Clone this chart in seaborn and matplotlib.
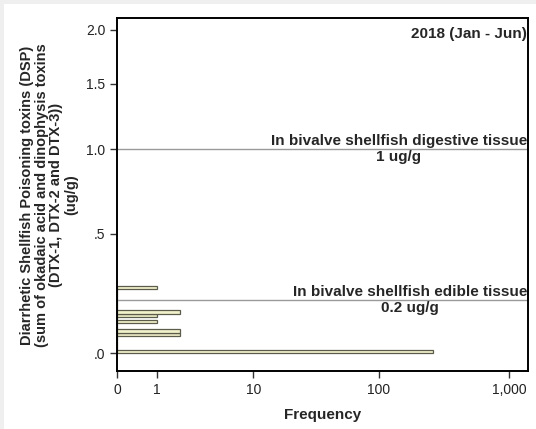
import matplotlib
matplotlib.use("Agg")
import matplotlib.pyplot as plt
from matplotlib.patches import Rectangle
import matplotlib.transforms as mtransforms
import seaborn as sns
import numpy as np
import pandas as pd

# histogram bins (lower edge, ug/g) and counts
bin_starts = [0.0, 0.060, 0.073, 0.108, 0.132, 0.145, 0.246]
frequencies = [263, 2, 2, 1, 1, 2, 1]
bin_width = 0.013

# regulatory limits drawn as reference lines
limit_values = [1.0, 0.2]
limit_labels = ["In bivalve shellfish digestive tissue\n1 ug/g",
                "In bivalve shellfish edible tissue\n0.2 ug/g"]

y_ticks = [0.0, 0.5, 1.0, 1.5, 2.0]
y_ticklabels = [".0", ".5", "1.0", "1.5", "2.0"]
x_ticks = [0, 1, 10, 100, 1000]
x_ticklabels = ["0", "1", "10", "100", "1,000"]


# "safe log" scale like SPSS: log10(1 + v)
def safe_log(v):
    v = np.asarray(v, dtype=float)
    return np.log10(1 + np.clip(v, -0.999, None))


def safe_log_inv(t):
    return 10 ** np.asarray(t, dtype=float) - 1


sns.set_style("white")
plt.rcParams['font.family'] = ['Liberation Sans', 'DejaVu Sans']

fig = plt.figure(figsize=(5.36, 4.29), dpi=100)
fig.patch.set_facecolor('#efefef')
fig.patches.append(Rectangle((4 / 536, 0), 1, 1 - 4 / 429, transform=fig.transFigure,
                             facecolor='white', edgecolor='none', zorder=-10))

ax = fig.add_axes([117.3 / 536, 1 - 371 / 429, 411 / 536, 353 / 429])
ax.set_facecolor('white')
ax.set_xscale('function', functions=(safe_log, safe_log_inv))
ax.set_yscale('function', functions=(safe_log, safe_log_inv))

# bin edges and the table for seaborn
# (seaborn bins in the axis' transformed space, so the edges go through safe_log)
starts = np.array(bin_starts)
edges = sorted(set(np.round(np.concatenate([starts, starts + bin_width]), 4).tolist()))
edges_t = safe_log(edges).tolist()
df = pd.DataFrame({'dsp': starts + bin_width / 2, 'count': frequencies})

sns.histplot(data=df, y='dsp', weights='count', bins=edges_t, ax=ax,
             color='#f1f1cc', edgecolor='#5c5c4c', linewidth=0.9, alpha=1)

ax.set_xlim(0, 1409)
ax.set_ylim(-0.058, 2.123)

for val, lab in zip(limit_values, limit_labels):
    ax.axhline(val, color='#9a9a9a', linewidth=1.0, zorder=1)
    trans = mtransforms.blended_transform_factory(ax.transAxes, ax.transData)
    ax.text(0.997, val, lab, transform=trans, ha='right', va='center',
            multialignment='center', fontsize=11, fontweight='bold')

ax.text(0.997, 0.975, "2018 (Jan - Jun)", transform=ax.transAxes, ha='right', va='top',
        fontsize=11, fontweight='bold')

ax.set_yticks(y_ticks)
ax.set_yticklabels(y_ticklabels)
ax.set_xticks(x_ticks)
ax.set_xticklabels(x_ticklabels)
ax.minorticks_off()
ax.tick_params(axis='both', direction='out', length=5, width=1, color='#333333',
               labelsize=10, labelcolor='#222222', left=True, bottom=True)

for s in ax.spines.values():
    s.set_visible(True)
    s.set_color('black')
    s.set_linewidth(1.4)

ax.set_xlabel("Frequency", fontsize=11, fontweight='bold', labelpad=8)
ax.set_ylabel("")

fig.text(49 / 536, 1 - 195 / 429,
         "Diarrhetic Shellfish Poisoning toxins (DSP)\n(sum of okadaic acid and dinophysis toxins\n(DTX-1, DTX-2 and DTX-3))\n(ug/g)",
         rotation=90, ha='center', va='center', multialignment='center',
         fontsize=10.5, fontweight='bold', linespacing=1.05)

fig.savefig("out.png", dpi=100)
